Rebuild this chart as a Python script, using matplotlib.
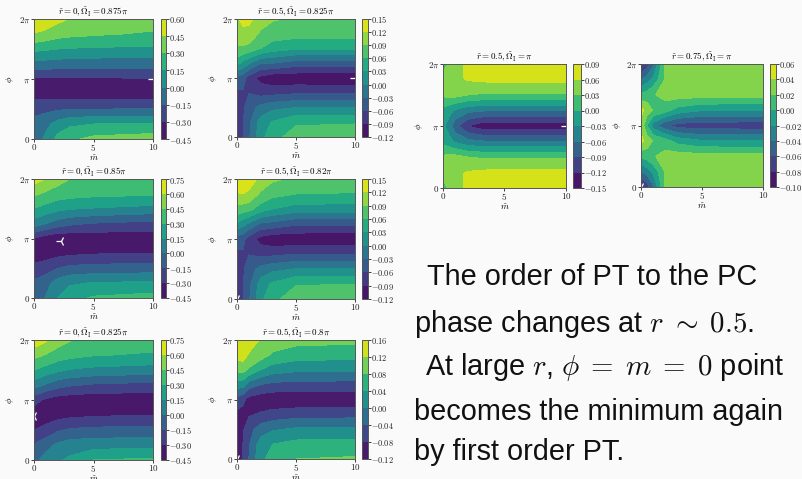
import numpy as np
import matplotlib.pyplot as plt
from matplotlib.ticker import FuncFormatter

plt.rcParams['mathtext.fontset'] = 'cm'
plt.rcParams['axes.unicode_minus'] = False

W, H = 803, 479

# grid the contour values were read on
m_pts = [0, 0.5, 1, 2, 3, 5, 10]
phi_pts = [0, 0.25, 0.5, 0.75, 1, 1.25, 1.5, 1.75, 2]   # in units of pi

# rows = phi_pts (bottom -> top), columns = m_pts
V_r0_0875 = [
    [-0.08, -0.03, 0.03, 0.20, 0.27, 0.34, 0.38],
    [-0.10, -0.07, -0.04, 0.06, 0.12, 0.15, 0.16],
    [-0.20, -0.20, -0.19, -0.17, -0.16, -0.155, -0.14],
    [-0.35, -0.355, -0.36, -0.37, -0.37, -0.38, -0.38],
    [-0.32, -0.32, -0.32, -0.32, -0.32, -0.32, -0.31],
    [-0.05, -0.055, -0.06, -0.07, -0.08, -0.085, -0.09],
    [0.19, 0.18, 0.17, 0.15, 0.14, 0.13, 0.12],
    [0.44, 0.43, 0.41, 0.36, 0.34, 0.32, 0.28],
    [0.56, 0.555, 0.54, 0.49, 0.44, 0.40, 0.38],
]
V_r0_085 = [
    [-0.08, -0.04, 0.01, 0.15, 0.24, 0.32, 0.36],
    [-0.12, -0.09, -0.05, 0.07, 0.13, 0.16, 0.18],
    [-0.25, -0.24, -0.22, -0.15, -0.11, -0.09, -0.08],
    [-0.38, -0.38, -0.37, -0.35, -0.33, -0.31, -0.30],
    [-0.31, -0.35, -0.38, -0.42, -0.41, -0.40, -0.40],
    [0.08, 0.04, 0.00, -0.07, -0.12, -0.16, -0.20],
    [0.29, 0.27, 0.24, 0.19, 0.16, 0.14, 0.10],
    [0.48, 0.45, 0.42, 0.38, 0.36, 0.34, 0.32],
    [0.66, 0.63, 0.59, 0.51, 0.45, 0.42, 0.40],
]
V_r0_0825 = [
    [-0.05, 0.01, 0.07, 0.13, 0.18, 0.30, 0.33],
    [-0.14, -0.10, -0.06, 0.03, 0.07, 0.09, 0.10],
    [-0.30, -0.28, -0.25, -0.17, -0.13, -0.11, -0.10],
    [-0.38, -0.38, -0.38, -0.36, -0.34, -0.32, -0.30],
    [-0.25, -0.29, -0.33, -0.38, -0.39, -0.40, -0.40],
    [0.07, 0.03, -0.02, -0.09, -0.13, -0.17, -0.20],
    [0.30, 0.27, 0.24, 0.18, 0.14, 0.11, 0.08],
    [0.50, 0.47, 0.44, 0.38, 0.35, 0.31, 0.28],
    [0.70, 0.66, 0.62, 0.52, 0.46, 0.41, 0.38],
]
V_r05_0825 = [
    [-0.100, -0.064, -0.035, 0.020, 0.050, 0.073, 0.075],
    [-0.086, -0.064, -0.038, 0.012, 0.033, 0.056, 0.058],
    [-0.078, -0.064, -0.045, -0.020, -0.008, 0.000, 0.000],
    [-0.065, -0.064, -0.061, -0.072, -0.070, -0.064, -0.065],
    [-0.040, -0.045, -0.075, -0.100, -0.112, -0.113, -0.115],
    [0.040, 0.020, 0.005, -0.030, -0.030, -0.045, -0.045],
    [0.088, 0.085, 0.080, 0.060, 0.045, 0.034, 0.035],
    [0.100, 0.110, 0.110, 0.085, 0.075, 0.072, 0.072],
    [0.115, 0.130, 0.128, 0.105, 0.093, 0.085, 0.082],
]
V_r05_082 = [
    [-0.100, -0.064, -0.035, 0.022, 0.052, 0.076, 0.078],
    [-0.086, -0.064, -0.038, 0.013, 0.035, 0.058, 0.060],
    [-0.078, -0.064, -0.045, -0.020, -0.008, 0.001, 0.002],
    [-0.066, -0.064, -0.061, -0.070, -0.068, -0.060, -0.060],
    [-0.045, -0.050, -0.075, -0.102, -0.112, -0.113, -0.115],
    [0.025, 0.010, -0.005, -0.035, -0.040, -0.055, -0.055],
    [0.080, 0.075, 0.070, 0.045, 0.030, 0.016, 0.015],
    [0.118, 0.120, 0.115, 0.085, 0.070, 0.060, 0.058],
    [0.135, 0.140, 0.135, 0.112, 0.095, 0.085, 0.080],
]
V_r05_08 = [
    [-0.100, -0.078, -0.040, 0.030, 0.055, 0.080, 0.085],
    [-0.100, -0.080, -0.045, 0.020, 0.040, 0.053, 0.055],
    [-0.100, -0.085, -0.055, -0.020, -0.005, 0.006, 0.008],
    [-0.090, -0.095, -0.085, -0.075, -0.065, -0.057, -0.055],
    [-0.055, -0.070, -0.095, -0.105, -0.110, -0.110, -0.110],
    [0.020, 0.015, -0.020, -0.040, -0.050, -0.055, -0.055],
    [0.090, 0.095, 0.075, 0.040, 0.020, 0.008, 0.006],
    [0.135, 0.140, 0.115, 0.100, 0.075, 0.060, 0.055],
    [0.150, 0.155, 0.150, 0.115, 0.100, 0.093, 0.090],
]
V_r05_1 = [
    [0.012, 0.040, 0.050, 0.066, 0.074, 0.078, 0.080],
    [0.042, 0.050, 0.055, 0.062, 0.066, 0.068, 0.068],
    [0.035, 0.040, 0.040, 0.030, 0.027, 0.025, 0.025],
    [-0.010, -0.020, -0.035, -0.050, -0.057, -0.060, -0.060],
    [-0.022, -0.045, -0.080, -0.120, -0.135, -0.140, -0.140],
    [-0.010, -0.020, -0.035, -0.050, -0.057, -0.060, -0.060],
    [0.035, 0.040, 0.040, 0.030, 0.027, 0.025, 0.025],
    [0.042, 0.050, 0.055, 0.062, 0.066, 0.068, 0.068],
    [0.012, 0.040, 0.050, 0.066, 0.074, 0.078, 0.080],
]
V_r075_1 = [
    [-0.092, -0.070, -0.045, 0.024, 0.030, 0.032, 0.032],
    [-0.042, -0.030, -0.015, 0.022, 0.030, 0.032, 0.032],
    [0.004, 0.010, 0.018, 0.028, 0.030, 0.028, 0.028],
    [0.046, 0.030, 0.018, 0.008, -0.008, -0.018, -0.020],
    [0.035, 0.000, -0.030, -0.055, -0.068, -0.072, -0.072],
    [0.046, 0.030, 0.018, 0.008, -0.008, -0.018, -0.020],
    [0.004, 0.010, 0.018, 0.028, 0.030, 0.028, 0.028],
    [-0.042, -0.030, -0.015, 0.022, 0.030, 0.032, 0.032],
    [-0.092, -0.070, -0.045, 0.024, 0.030, 0.032, 0.032],
]

lev_r0_0875 = [-0.45, -0.30, -0.15, 0.00, 0.15, 0.30, 0.45, 0.60]
lev_r0 = [-0.45, -0.30, -0.15, 0.00, 0.15, 0.30, 0.45, 0.60, 0.75]
lev_r05 = [-0.12, -0.09, -0.06, -0.03, 0.00, 0.03, 0.06, 0.09, 0.12, 0.15]
lev_r05_08 = [-0.12, -0.08, -0.04, 0.00, 0.04, 0.08, 0.12, 0.16]
lev_r05_1 = [-0.15, -0.12, -0.09, -0.06, -0.03, 0.00, 0.03, 0.06, 0.09]
lev_r075_1 = [-0.10, -0.08, -0.06, -0.04, -0.02, 0.00, 0.02, 0.04, 0.06]

# location of the minimum marker (m, phi/pi)
min_r0_0875 = (10, 1.0)
min_r0_085 = (2.3, 0.95)
min_r0_0825 = (0, 0.73)
min_r05_0825 = (10, 1.0)
min_r05_082 = (0, 0)
min_r05_08 = (0, 0)
min_r05_1 = (10, 1.0)
min_r075_1 = (0, 0)

# title, values, levels, minimum, axes box (px), colorbar x range (px)
panels = [
    (r'$\tilde{r}=0, \tilde{\Omega}_{\rm I}=0.875\pi$', V_r0_0875, lev_r0_0875, min_r0_0875,
     (34, 19, 153, 139), (161, 166)),
    (r'$\tilde{r}=0.5, \tilde{\Omega}_{\rm I}=0.825\pi$', V_r05_0825, lev_r05, min_r05_0825,
     (237, 19, 355, 137), (362, 368)),
    (r'$\tilde{r}=0, \tilde{\Omega}_{\rm I}=0.85\pi$', V_r0_085, lev_r0, min_r0_085,
     (34, 179, 153, 298), (161, 166)),
    (r'$\tilde{r}=0.5, \tilde{\Omega}_{\rm I}=0.82\pi$', V_r05_082, lev_r05, min_r05_082,
     (237, 179, 355, 299), (362, 368)),
    (r'$\tilde{r}=0, \tilde{\Omega}_{\rm I}=0.825\pi$', V_r0_0825, lev_r0, min_r0_0825,
     (34, 340, 153, 460), (161, 166)),
    (r'$\tilde{r}=0.5, \tilde{\Omega}_{\rm I}=0.8\pi$', V_r05_08, lev_r05_08, min_r05_08,
     (237, 340, 355, 459), (362, 368)),
    (r'$\tilde{r}=0.5, \tilde{\Omega}_{\rm I}=\pi$', V_r05_1, lev_r05_1, min_r05_1,
     (443, 64, 566, 188), (573, 581)),
    (r'$\tilde{r}=0.75, \tilde{\Omega}_{\rm I}=\pi$', V_r075_1, lev_r075_1, min_r075_1,
     (641, 64, 763, 187), (770, 776)),
]

fig = plt.figure(figsize=(W / 100, H / 100), dpi=100, facecolor='#fafafa')


def px_axes(x0, y0, x1, y1):
    return fig.add_axes([x0 / W, 1 - y1 / H, (x1 - x0) / W, (y1 - y0) / H])


mfmt = FuncFormatter(lambda v, pos: r'$%g$' % v)
cfmt = FuncFormatter(lambda v, pos: r'$%.2f$' % v)
phifmt = FuncFormatter(lambda v, pos: [r'$0$', r'$\pi$', r'$2\pi$'][int(round(v / np.pi))])

for title, vals, levels, vmin_pt, box, cbx in panels:
    ax = px_axes(*box)
    Z = np.array(vals)
    phi = np.array(phi_pts) * np.pi
    cs = ax.contourf(m_pts, phi, Z, levels=levels, cmap='viridis')
    ax.plot(vmin_pt[0], vmin_pt[1] * np.pi, marker='3', color='white', ms=7, mew=0.9, clip_on=True)
    ax.set_xlim(0, 10)
    ax.set_ylim(0, 2 * np.pi)
    ax.set_xticks([0, 5, 10])
    ax.set_yticks([0, np.pi, 2 * np.pi])
    ax.xaxis.set_major_formatter(mfmt)
    ax.yaxis.set_major_formatter(phifmt)
    ax.tick_params(labelsize=6.5, length=2, width=0.6, pad=0.5, colors='#222222')
    ax.set_xlabel(r'$\tilde{m}$', fontsize=6.5, labelpad=0)
    ax.set_ylabel(r'$\phi$', fontsize=6.5, labelpad=2)
    ax.set_title(title, fontsize=6.5, pad=3)
    for s in ax.spines.values():
        s.set_color('#555555')
        s.set_linewidth(0.7)

    cax = px_axes(cbx[0], box[1], cbx[1], box[3])
    cb = fig.colorbar(cs, cax=cax, ticks=levels)
    cb.ax.yaxis.set_major_formatter(cfmt)
    cb.ax.tick_params(labelsize=6, length=2, width=0.6, pad=0.5, colors='#222222')
    cb.outline.set_edgecolor('#555555')
    cb.outline.set_linewidth(0.7)

# slide text
text_lines = [
    (427, 285, 'The order of PT to the PC'),
    (414, 332, r'phase changes at $r \;\sim\; 0.5$.'),
    (425, 375, r'At large $r$, $\phi \;=\; m \;=\; 0$ point'),
    (414, 420, 'becomes the minimum again'),
    (414, 460, 'by first order PT.'),
]
for x, y, s in text_lines:
    fig.text(x / W, 1 - y / H, s, fontsize=20.8, family='Liberation Sans',
             va='baseline', ha='left', color='#111111')

fig.savefig('out.png', dpi=100, facecolor=fig.get_facecolor())
